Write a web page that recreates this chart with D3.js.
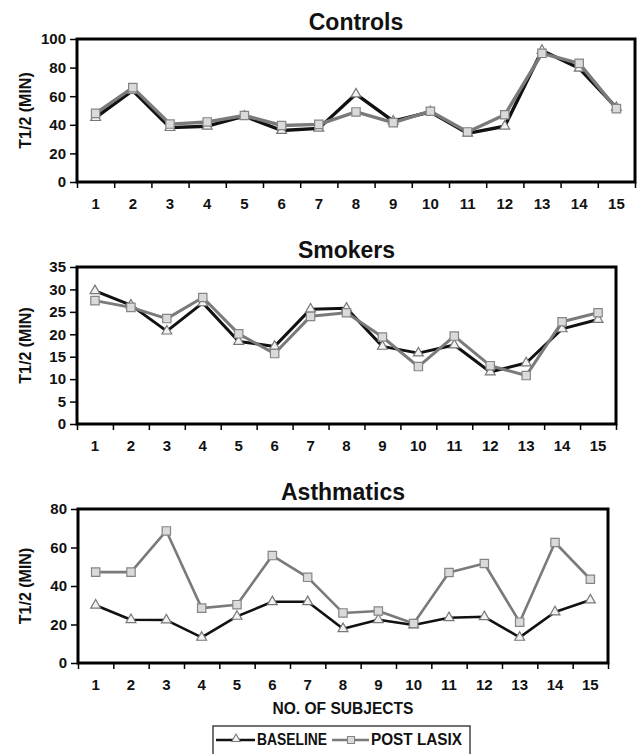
<!DOCTYPE html>
<html>
<head>
<meta charset="utf-8">
<script src="https://cdn.jsdelivr.net/npm/d3@7"></script>
<style>
  body { margin: 0; background: #fff; }
  svg { display: block; font-family: "Liberation Sans", Arial, sans-serif; font-weight: bold; }
</style>
</head>
<body>
<svg id="chart" width="638" height="754"></svg>
<script>
// subjects on the x axis
const subjects = ["1", "2", "3", "4", "5", "6", "7", "8", "9", "10", "11", "12", "13", "14", "15"];

// T1/2 (min)
const controlsBaseline = [45, 64, 38, 39, 46, 36, 37.5, 61.5, 42.5, 49, 34, 39, 92, 79.5, 52];
const controlsPost = [48, 66, 40.5, 42, 46.5, 39.5, 40.3, 49, 41.5, 49.5, 35, 47, 90, 83, 51.3];

const smokersBaseline = [29.7, 26.5, 20.7, 27, 18.4, 17.3, 25.6, 25.8, 17.3, 15.8, 17.6, 11.6, 13.6, 21.2, 23.3];
const smokersPost = [27.5, 26, 23.5, 28.2, 20.1, 15.7, 24, 24.8, 19.4, 12.8, 19.6, 13, 10.8, 22.8, 24.8];

const asthmaBaseline = [30, 22.5, 22.3, 13.3, 24.2, 31.8, 31.8, 17.8, 22.5, 19.7, 23.5, 24, 13.3, 26.5, 32.7];
const asthmaPost = [47.2, 47.2, 68.6, 28.5, 30.3, 55.8, 44.5, 26, 27, 20.5, 47, 51.7, 21.2, 62.6, 43.5];

// tick labels
const controlsTicks = [0, 20, 40, 60, 80, 100];
const smokersTicks = [0, 5, 10, 15, 20, 25, 30, 35];
const asthmaTicks = [0, 20, 40, 60, 80];

const svg = d3.select("#chart");

const panels = [
  { title: "Controls", base: controlsBaseline, post: controlsPost, ticks: controlsTicks,
    l: 77, r: 635, t: 39, b: 182, lw: 3.4 },
  { title: "Smokers", base: smokersBaseline, post: smokersPost, ticks: smokersTicks,
    l: 77, r: 616, t: 267, b: 424, lw: 3 },
  { title: "Asthmatics", base: asthmaBaseline, post: asthmaPost, ticks: asthmaTicks,
    l: 78, r: 608, t: 509, b: 663, lw: 2.6 }
];

const triangle = d3.symbol().type(d3.symbolTriangle).size(42);
const square = d3.symbol().type(d3.symbolSquare).size(70);

panels.forEach((p) => {
  const x = d3.scaleBand().domain(subjects).range([p.l, p.r]);
  const xEdge = d3.scaleLinear().domain([0, subjects.length]).range([p.l, p.r]);
  const y = d3.scaleLinear().domain([0, d3.max(p.ticks)]).range([p.b, p.t]);
  const g = svg.append("g");

  // y axis
  const ya = g.append("g")
    .attr("transform", `translate(${p.l},0)`)
    .call(d3.axisLeft(y).tickValues(p.ticks).tickSize(7).tickPadding(4));
  ya.select(".domain").remove();
  ya.selectAll("line").attr("stroke", "#000").attr("stroke-width", 1.5);
  ya.selectAll("text")
    .attr("font-size", 15).attr("font-weight", "bold").attr("fill", "#111")
    .attr("font-family", "Liberation Sans, Arial, sans-serif");

  // tick marks on band edges
  const xt = g.append("g")
    .attr("transform", `translate(0,${p.b})`)
    .call(d3.axisBottom(xEdge).tickValues(d3.range(0, subjects.length + 1)).tickFormat("").tickSize(6));
  xt.select(".domain").remove();
  xt.selectAll("line").attr("stroke", "#000").attr("stroke-width", 1.5);

  // subject labels
  const xl = g.append("g")
    .attr("transform", `translate(0,${p.b})`)
    .call(d3.axisBottom(x).tickSize(0).tickPadding(16));
  xl.select(".domain").remove();
  xl.selectAll("text")
    .attr("font-size", 15).attr("font-weight", "bold").attr("fill", "#111")
    .attr("font-family", "Liberation Sans, Arial, sans-serif");

  // frame
  g.append("rect")
    .attr("x", p.l).attr("y", p.t)
    .attr("width", p.r - p.l).attr("height", p.b - p.t)
    .attr("fill", "none").attr("stroke", "#000").attr("stroke-width", 3);

  // title
  g.append("text")
    .attr("x", (p.l + p.r) / 2).attr("y", p.t - 9)
    .attr("text-anchor", "middle").attr("font-size", 23).attr("fill", "#111")
    .text(p.title);

  // y label
  g.append("text")
    .attr("transform", `translate(31,${(p.t + p.b) / 2}) rotate(-90)`)
    .attr("text-anchor", "middle").attr("font-size", 16).attr("fill", "#111")
    .text("T1/2 (MIN)");

  const cx = (i) => x(subjects[i]) + x.bandwidth() / 2;
  const line = d3.line().x((d, i) => cx(i)).y((d) => y(d));

  // baseline
  g.append("path").datum(p.base)
    .attr("d", line).attr("fill", "none")
    .attr("stroke", "#111").attr("stroke-width", p.lw).attr("stroke-linejoin", "round");
  g.selectAll(".tri").data(p.base).enter().append("path")
    .attr("class", "tri")
    .attr("d", triangle)
    .attr("transform", (d, i) => `translate(${cx(i)},${y(d)})`)
    .attr("fill", "#f2f2f2").attr("stroke", "#777").attr("stroke-width", 1.2);

  // post lasix
  g.append("path").datum(p.post)
    .attr("d", line).attr("fill", "none")
    .attr("stroke", "#7a7a7a").attr("stroke-width", p.lw).attr("stroke-linejoin", "round");
  g.selectAll(".sq").data(p.post).enter().append("path")
    .attr("class", "sq")
    .attr("d", square)
    .attr("transform", (d, i) => `translate(${cx(i)},${y(d)})`)
    .attr("fill", "#dadada").attr("stroke", "#858585").attr("stroke-width", 1.2);
});

// x-axis title
svg.append("text")
  .attr("x", 343).attr("y", 714)
  .attr("text-anchor", "middle").attr("font-size", 16).attr("fill", "#111")
  .attr("textLength", 141).attr("lengthAdjust", "spacingAndGlyphs")
  .text("NO. OF SUBJECTS");

// legend
const legend = svg.append("g");
legend.append("rect")
  .attr("x", 213).attr("y", 726).attr("width", 257).attr("height", 40)
  .attr("fill", "#fff").attr("stroke", "#444").attr("stroke-width", 1.5);

legend.append("line")
  .attr("x1", 216).attr("x2", 255).attr("y1", 740).attr("y2", 740)
  .attr("stroke", "#111").attr("stroke-width", 2.5);
legend.append("path")
  .attr("d", d3.symbol().type(d3.symbolTriangle).size(32)())
  .attr("transform", "translate(236,739)")
  .attr("fill", "#f2f2f2").attr("stroke", "#777").attr("stroke-width", 1.1);
legend.append("text")
  .attr("x", 257).attr("y", 745).attr("font-size", 16).attr("fill", "#111")
  .attr("textLength", 70).attr("lengthAdjust", "spacingAndGlyphs")
  .text("BASELINE");

legend.append("line")
  .attr("x1", 332).attr("x2", 369).attr("y1", 740).attr("y2", 740)
  .attr("stroke", "#7a7a7a").attr("stroke-width", 2.5);
legend.append("path")
  .attr("d", d3.symbol().type(d3.symbolSquare).size(50)())
  .attr("transform", "translate(351,740)")
  .attr("fill", "#dadada").attr("stroke", "#858585").attr("stroke-width", 1.1);
legend.append("text")
  .attr("x", 371).attr("y", 745).attr("font-size", 16).attr("fill", "#111")
  .attr("textLength", 91).attr("lengthAdjust", "spacingAndGlyphs")
  .text("POST LASIX");
</script>
</body>
</html>
